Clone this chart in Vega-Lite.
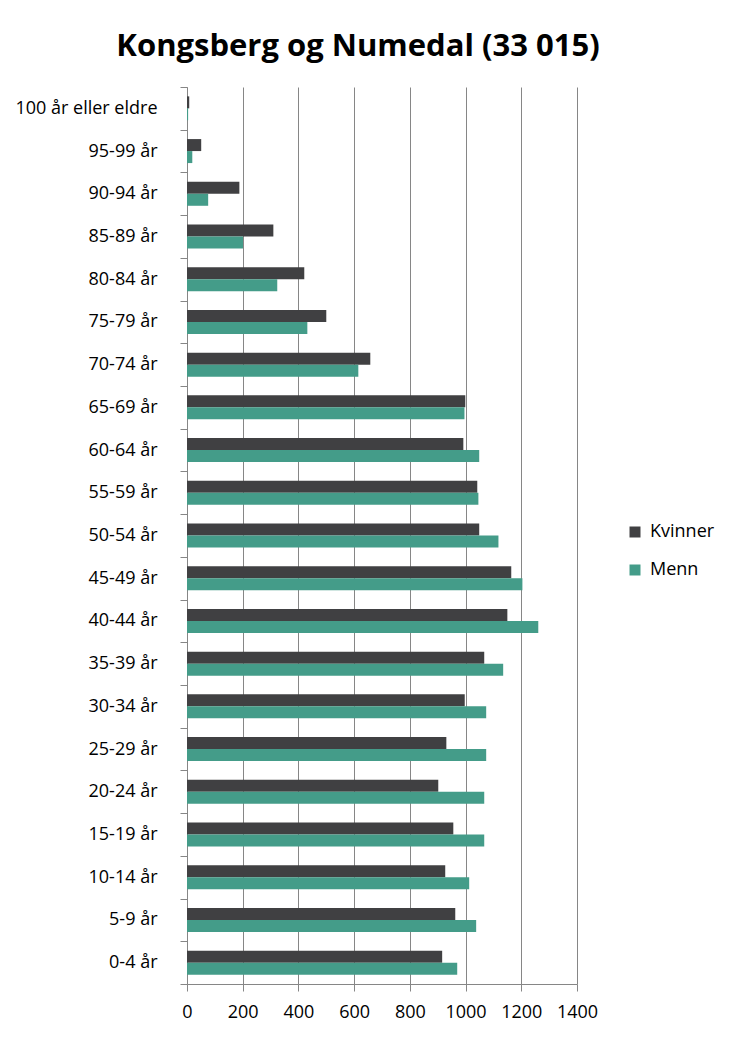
{
  "$schema": "https://vega.github.io/schema/vega-lite/v6.json",
  "autosize": "none",
  "padding": {"left": 187, "top": 87, "right": 156, "bottom": 53},
  "width": 390,
  "height": 897,
  "background": "white",
  "config": {"view": {"stroke": null}},
  "title": {
    "text": "Kongsberg og Numedal (33 015)",
    "font": "Open Sans",
    "fontSize": 31,
    "fontWeight": "bold",
    "color": "black",
    "anchor": "middle",
    "frame": "group",
    "dx": -24,
    "dy": 39,
    "offset": 30,
    "baseline": "alphabetic"
  },
  "data": {
    "values": [
      {"age": "100 år eller eldre", "series": "Kvinner", "value": 8},
      {"age": "100 år eller eldre", "series": "Menn", "value": 4},
      {"age": "95-99 år", "series": "Kvinner", "value": 51},
      {"age": "95-99 år", "series": "Menn", "value": 19},
      {"age": "90-94 år", "series": "Kvinner", "value": 188},
      {"age": "90-94 år", "series": "Menn", "value": 76},
      {"age": "85-89 år", "series": "Kvinner", "value": 310},
      {"age": "85-89 år", "series": "Menn", "value": 201},
      {"age": "80-84 år", "series": "Kvinner", "value": 421},
      {"age": "80-84 år", "series": "Menn", "value": 324},
      {"age": "75-79 år", "series": "Kvinner", "value": 500},
      {"age": "75-79 år", "series": "Menn", "value": 432},
      {"age": "70-74 år", "series": "Kvinner", "value": 658},
      {"age": "70-74 år", "series": "Menn", "value": 615},
      {"age": "65-69 år", "series": "Kvinner", "value": 999},
      {"age": "65-69 år", "series": "Menn", "value": 996},
      {"age": "60-64 år", "series": "Kvinner", "value": 992},
      {"age": "60-64 år", "series": "Menn", "value": 1049},
      {"age": "55-59 år", "series": "Kvinner", "value": 1042},
      {"age": "55-59 år", "series": "Menn", "value": 1046},
      {"age": "50-54 år", "series": "Kvinner", "value": 1049},
      {"age": "50-54 år", "series": "Menn", "value": 1118},
      {"age": "45-49 år", "series": "Kvinner", "value": 1164},
      {"age": "45-49 år", "series": "Menn", "value": 1204},
      {"age": "40-44 år", "series": "Kvinner", "value": 1150},
      {"age": "40-44 år", "series": "Menn", "value": 1261},
      {"age": "35-39 år", "series": "Kvinner", "value": 1067},
      {"age": "35-39 år", "series": "Menn", "value": 1135},
      {"age": "30-34 år", "series": "Kvinner", "value": 997},
      {"age": "30-34 år", "series": "Menn", "value": 1074},
      {"age": "25-29 år", "series": "Kvinner", "value": 931},
      {"age": "25-29 år", "series": "Menn", "value": 1074},
      {"age": "20-24 år", "series": "Kvinner", "value": 902},
      {"age": "20-24 år", "series": "Menn", "value": 1067},
      {"age": "15-19 år", "series": "Kvinner", "value": 956},
      {"age": "15-19 år", "series": "Menn", "value": 1067},
      {"age": "10-14 år", "series": "Kvinner", "value": 927},
      {"age": "10-14 år", "series": "Menn", "value": 1013},
      {"age": "5-9 år", "series": "Kvinner", "value": 963},
      {"age": "5-9 år", "series": "Menn", "value": 1038},
      {"age": "0-4 år", "series": "Kvinner", "value": 916},
      {"age": "0-4 år", "series": "Menn", "value": 970}
    ]
  },
  "mark": {"type": "bar", "cornerRadius": 0},
  "encoding": {
    "y": {
      "field": "age",
      "type": "nominal",
      "scale": {
        "domain": ["100 år eller eldre", "95-99 år", "90-94 år", "85-89 år", "80-84 år", "75-79 år", "70-74 år", "65-69 år", "60-64 år", "55-59 år", "50-54 år", "45-49 år", "40-44 år", "35-39 år", "30-34 år", "25-29 år", "20-24 år", "15-19 år", "10-14 år", "5-9 år", "0-4 år"],
        "paddingInner": 0,
        "paddingOuter": 0
      },
      "axis": {
        "title": null,
        "tickBand": "extent",
        "tickSize": 7,
        "tickColor": "#868686",
        "domainColor": "#868686",
        "labelPadding": 23,
        "labelFont": "Open Sans",
        "labelFontSize": 18,
        "labelColor": "black",
        "grid": false
      }
    },
    "yOffset": {
      "field": "series",
      "type": "nominal",
      "scale": {"domain": ["Kvinner", "Menn"], "paddingInner": 0, "paddingOuter": 0.78}
    },
    "x": {
      "field": "value",
      "type": "quantitative",
      "scale": {"domain": [0, 1400], "nice": false},
      "axis": {
        "title": null,
        "values": [0, 200, 400, 600, 800, 1000, 1200, 1400],
        "format": "d",
        "grid": true,
        "gridColor": "#868686",
        "gridOpacity": 1,
        "tickSize": 7,
        "tickColor": "#868686",
        "domainColor": "#868686",
        "labelPadding": 12,
        "labelFont": "Open Sans",
        "labelFontSize": 18,
        "labelColor": "black",
        "labelFlush": false
      }
    },
    "color": {
      "field": "series",
      "type": "nominal",
      "scale": {"domain": ["Kvinner", "Menn"], "range": ["#404042", "#449C89"]},
      "legend": {
        "orient": "none",
        "legendX": 439,
        "legendY": 436,
        "title": null,
        "padding": 0,
        "symbolType": "square",
        "symbolSize": 121,
        "symbolStrokeWidth": 0,
        "labelFont": "Open Sans",
        "labelFontSize": 18,
        "labelColor": "black",
        "labelOffset": 6,
        "rowPadding": 20
      }
    }
  }
}
